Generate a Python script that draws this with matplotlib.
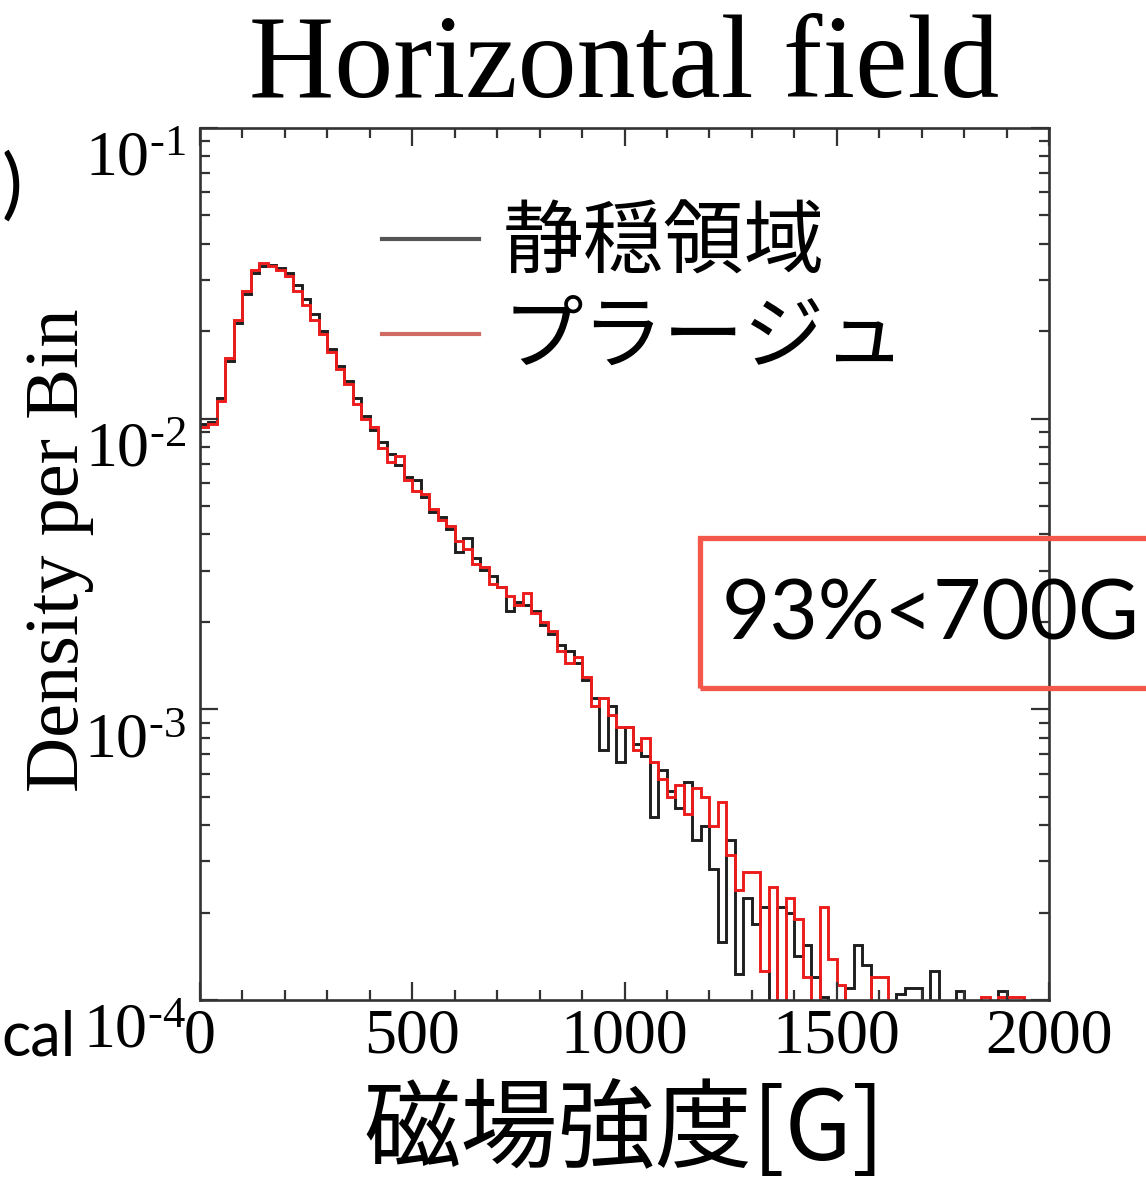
import numpy as np
import matplotlib
matplotlib.use("Agg")
import matplotlib.pyplot as plt
from matplotlib.patches import Rectangle
from matplotlib.font_manager import FontProperties
from matplotlib.ticker import MultipleLocator, LogLocator, NullFormatter
from matplotlib.transforms import ScaledTranslation

# ---------------- data ----------------
bin_edges_G = np.arange(0, 2001, 20)          # 20 G bins, 0..2000 G
x_ticks = [0, 500, 1000, 1500, 2000]
x_tick_labels = ["0", "500", "1000", "1500", "2000"]
y_ticks = [1e-4, 1e-3, 1e-2, 1e-1]
y_tick_labels = [r"$\mathregular{10^{\text{-}4}}$", r"$\mathregular{10^{\text{-}3}}$",
                 r"$\mathregular{10^{\text{-}2}}$", r"$\mathregular{10^{\text{-}1}}$"]
series_names = ["静穏領域", "プラージュ"]

# log10(density per bin); None = empty bin
log10_quiet = [
    -2.02, -2.01, -1.93, -1.80, -1.67, -1.57, -1.50, -1.475, -1.47, -1.48,
    -1.50, -1.54, -1.59, -1.64, -1.70, -1.76, -1.82, -1.87, -1.93, -1.99,
    -2.04, -2.08, -2.12, -2.16, -2.20, -2.21, -2.27, -2.32, -2.34, -2.38,
    -2.46, -2.41, -2.48, -2.52, -2.54, -2.58, -2.66, -2.63, -2.64, -2.66,
    -2.71, -2.74, -2.78, -2.80, -2.84, -2.90, -2.96, -3.14, -2.99, -3.18,
    -3.06, -3.12, -3.16, -3.37, -3.21, -3.28, -3.34, -3.25, -3.45, -3.40,
    -3.55, -3.80, -3.45, -3.91, -3.65, -3.74, -3.68, None, -3.68, -3.70,
    -3.85, -3.81, -3.92, -3.99, None, None, -3.96, -3.81, -3.88, None,
    None, None, -3.98, -3.96, -3.96, None, -3.90, None, None, -3.97,
    None, None, None, None, -3.97, None, None, None, None, None,
]
log10_plage = [
    -2.03, -2.02, -1.94, -1.79, -1.66, -1.56, -1.49, -1.465, -1.475, -1.49,
    -1.51, -1.56, -1.61, -1.66, -1.71, -1.77, -1.83, -1.88, -1.95, -2.00,
    -2.03, -2.10, -2.15, -2.13, -2.21, -2.25, -2.26, -2.31, -2.35, -2.37,
    -2.42, -2.45, -2.50, -2.51, -2.57, -2.58, -2.61, -2.64, -2.60, -2.67,
    -2.70, -2.73, -2.80, -2.84, -2.82, -2.89, -2.99, -2.96, -3.02, -3.06,
    -3.06, -3.14, -3.10, -3.18, -3.24, -3.30, -3.26, -3.36, -3.27, -3.30,
    -3.40, -3.32, -3.50, -3.62, -3.56, -3.56, -3.90, -3.61, None, -3.65,
    -3.72, -3.92, None, -3.68, -3.86, -3.95, None, None, None, -3.92,
    -3.92, None, None, None, None, None, None, None, None, None,
    None, None, -3.99, None, -3.99, -3.99, -3.99, None, None, None,
]

def to_density(vals):
    return np.array([0.0 if v is None else 10.0 ** v for v in vals])

dens_quiet = to_density(log10_quiet)
dens_plage = to_density(log10_plage)

# ---------------- styling ----------------
plt.rcParams["font.family"] = ["Liberation Serif", "DejaVu Serif"]
plt.rcParams["mathtext.fontset"] = "custom"
plt.rcParams["mathtext.rm"] = "Liberation Serif"

W, H = 1146, 1187
fig = plt.figure(figsize=(W / 100, H / 100), dpi=100)
ax = fig.add_axes([200 / W, (H - 1000) / H, 849 / W, 872 / H])

ax.set_yscale("log")
ax.set_xlim(0, 2000)
ax.set_ylim(1e-4, 1e-1)

ax.stairs(dens_quiet, bin_edges_G, baseline=None, color="#1e1e1e", lw=2.1,
          label=series_names[0])
ax.stairs(dens_plage, bin_edges_G, baseline=None, color="#ec1c1c", lw=2.1,
          label=series_names[1])

# ticks
ax.set_xticks(x_ticks)
ax.set_xticklabels(x_tick_labels)
ax.xaxis.set_minor_locator(MultipleLocator(100))
ax.set_yticks(y_ticks)
ax.set_yticklabels(y_tick_labels)
ax.yaxis.set_minor_locator(LogLocator(base=10, subs=np.arange(2, 10)))
ax.yaxis.set_minor_formatter(NullFormatter())
ax.tick_params(which="both", direction="in", top=True, right=True,
               color="#333333", width=1.6)
ax.tick_params(which="major", length=13)
ax.tick_params(which="minor", length=7)
ax.tick_params(axis="x", which="major", labelsize=46, pad=6)
ax.tick_params(axis="y", which="major", labelsize=46, pad=10)
shift = ScaledTranslation(0, -26 / 100, fig.dpi_scale_trans)
for lab in ax.get_yticklabels():
    lab.set_transform(lab.get_transform() + shift)
for sp in ax.spines.values():
    sp.set_color("#333333")
    sp.set_linewidth(1.9)

# labels
ax.set_title("Horizontal field", fontsize=85, pad=22)
ax.set_ylabel("Density per Bin", fontsize=55, va="center")
ax.yaxis.set_label_coords(-0.166, 0.516)
ax.set_xlabel("磁場強度[G]", fontsize=70,
              family=["Noto Sans CJK JP", "DejaVu Sans"], labelpad=12)

# legend
leg = ax.legend(prop=FontProperties(family="Noto Sans CJK JP", size=58),
                frameon=False, loc="upper left",
                bbox_to_anchor=(382 / W, (H - 203) / H),
                bbox_transform=fig.transFigure,
                handlelength=1.2, handletextpad=0.3, labelspacing=0.15,
                borderpad=0, borderaxespad=0)
for h, c in zip(leg.legend_handles, ["#555555", "#d06a62"]):
    h.set_color(c)
    h.set_linewidth(3)

# annotation box
fig.patches.append(Rectangle((700 / W, (H - 688) / H), 500 / W, 150 / H,
                             transform=fig.transFigure, fill=False,
                             edgecolor="#f4584a", lw=3.8))
fig.text(722 / W, (H - 616) / H, "93%<700G", fontsize=60, family="Lato",
         ha="left", va="center", color="black")

# pieces of neighbouring slide content
fig.text(1 / W, (H - 1055) / H, "cal", fontsize=44, family="Lato",
         ha="left", va="baseline", color="black")
fig.text(2 / W, (H - 188) / H, ")", fontsize=56, family="Lato",
         ha="left", va="center", color="black")

fig.savefig("out.png", dpi=100)
